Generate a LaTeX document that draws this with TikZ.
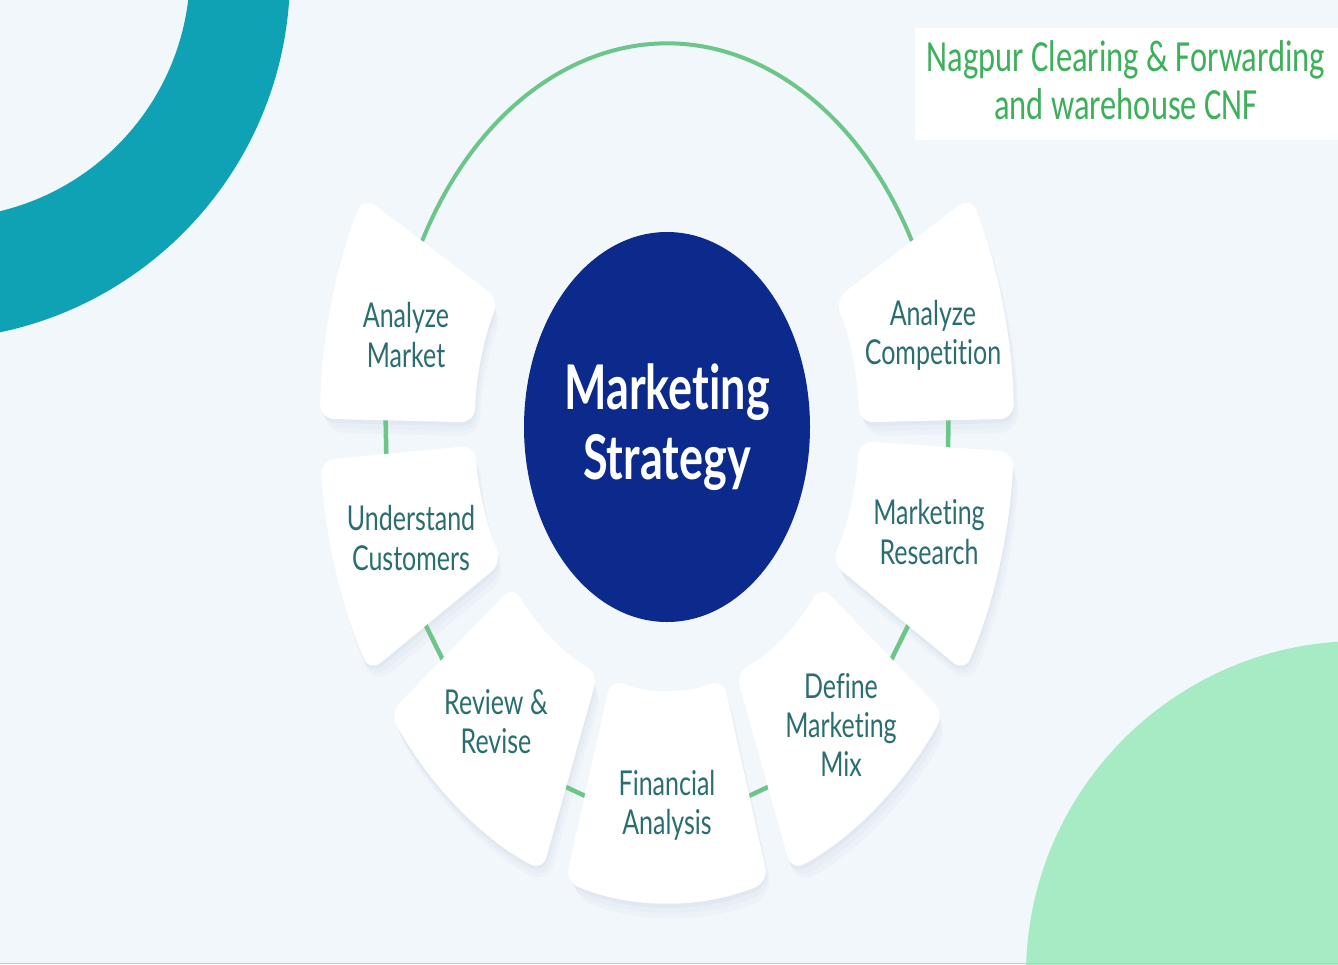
\documentclass[tikz,border=0pt]{standalone}
\usepackage{fontspec}
\setmainfont[Ligatures={NoCommon}]{Lato}
\newfontfamily\hdrfont{Carlito}
\definecolor{bgc}{HTML}{F2F7FC}
\definecolor{tealc}{HTML}{0FA1B4}
\definecolor{mintc}{HTML}{A6EBC4}
\definecolor{navyc}{HTML}{0B2A8C}
\definecolor{lblc}{HTML}{2A6E70}
\definecolor{linec}{HTML}{6CC68A}
\definecolor{hdrc}{HTML}{3DB05A}
\definecolor{shadc}{HTML}{9AA8C0}
\definecolor{stripc}{HTML}{9FD3E0}
\newcommand\segshape[2]{(#1:347) arc[start angle=#1, end angle=#2, radius=347] -- (#2:192) arc[start angle=#2, end angle=#1, radius=192] -- cycle}
\newcommand\drawseg[2]{%
  \fill[shadc, opacity=0.07, rounded corners=16pt, xshift=1pt, yshift=-4pt] \segshape{#1}{#2};
  \fill[shadc, opacity=0.06, rounded corners=18pt, xshift=3pt, yshift=-9pt] \segshape{#1}{#2};
  \fill[shadc, opacity=0.05, rounded corners=20pt, xshift=5pt, yshift=-14pt] \segshape{#1}{#2};
}
\newcommand\whiteseg[2]{\fill[white, rounded corners=14pt] \segshape{#1}{#2};}
\tikzset{
  conn/.style={draw=linec, line width=4.5pt},
  lbl/.style={text=lblc, align=center, font=\fontsize{25}{28.5}\selectfont, yscale=1.37, inner sep=0pt},
}
\begin{document}
\begin{tikzpicture}[x=1pt, y=-1pt]
\useasboundingbox (0,0) rectangle (1338,964);
\fill[bgc] (0,0) rectangle (1338,964);
\begin{scope}
  \clip (0,0) rectangle (1338,964);
  \fill[tealc, even odd rule] (-75,-25) circle[radius=365pt] (-58,-30) circle[radius=248pt];
  \fill[mintc] (1360,975) circle[radius=334pt];
\end{scope}
\fill[stripc] (0,962.5) rectangle (1338,964);
% header box
\fill[white] (915,28) rectangle (1338,140);
\node[text=hdrc, align=center, font=\hdrfont\fontsize{32.5}{35}\selectfont, yscale=1.37, inner sep=0pt] (hdr) at (1126,80) {Nagpur Clearing \& Forwarding\\and warehouse CNF};
% ring
\begin{scope}[shift={(667,427)}, x=1pt, y=1.37pt]
  \drawseg{151}{179}
  \drawseg{184}{211}
  \drawseg{217}{249}
  \drawseg{253}{287}
  \drawseg{291}{323}
  \drawseg{329}{357}
  \drawseg{1}{29}
  \coordinate (arcA) at (151:280);
  \coordinate (arcB) at (29:280);
  \coordinate (g1a) at (177:282); \coordinate (g1b) at (186:282);
  \coordinate (g2a) at (209:282); \coordinate (g2b) at (219:282);
  \coordinate (g3a) at (247:282); \coordinate (g3b) at (255:282);
  \coordinate (g4a) at (285:282); \coordinate (g4b) at (293:282);
  \coordinate (g5a) at (321:282); \coordinate (g5b) at (331:282);
  \coordinate (g6a) at (355:282); \coordinate (g6b) at (3:282);
  \draw[linec, line width=4pt] (arcA) arc[start angle=151, end angle=29, radius=280];
  \draw[conn] (g1a) -- (g1b);
  \draw[conn] (g2a) -- (g2b);
  \draw[conn] (g3a) -- (g3b);
  \draw[conn] (g4a) -- (g4b);
  \draw[conn] (g5a) -- (g5b);
  \draw[conn] (g6a) -- (g6b);
  \whiteseg{151}{179}
  \whiteseg{184}{211}
  \whiteseg{217}{249}
  \whiteseg{253}{287}
  \whiteseg{291}{323}
  \whiteseg{329}{357}
  \whiteseg{1}{29}
\end{scope}
\fill[navyc] (667,427) ellipse[x radius=143pt, y radius=195pt];
\node[text=white, align=center, font=\bfseries\fontsize{45}{51}\selectfont, yscale=1.37, inner sep=0pt] (ms) at (667,427) {Marketing\\Strategy};
\node[lbl] (am) at (406,335) {Analyze\\Market};
\node[lbl] (uc) at (411,538) {Understand\\Customers};
\node[lbl] (rr) at (496,722) {Review \&\\Revise};
\node[lbl] (fa) at (667,805) {Financial\\Analysis};
\node[lbl] (dm) at (841,725) {Define\\Marketing\\Mix};
\node[lbl] (mr) at (929,532) {Marketing\\Research};
\node[lbl] (ac) at (933,335) {Analyze\\Competition};
\end{tikzpicture}
\end{document}
